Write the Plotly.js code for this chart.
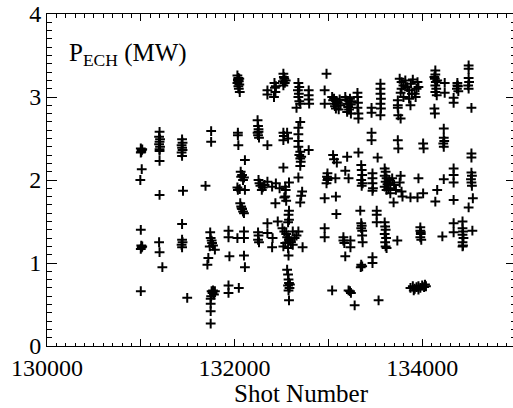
<!DOCTYPE html>
<html>
<head>
<meta charset="utf-8">
<script src="https://cdn.plot.ly/plotly-3.0.1.min.js"></script>
<style>
html,body{margin:0;padding:0;overflow:hidden;background:#fff;width:513px;height:408px;}
#chart{width:517px;height:408px;}
</style>
</head>
<body>
<div id="chart"></div>
<script>
// Shot numbers (x) and ECH power in MW (y)
const shotNumber = [
  131000,131010,131005,131015,131000,131010,130995,131000,131005,131010,131000,131015,131000,
  131200,131195,131205,131200,131195,131205,131200,131200,131200,131200,131195,131200,131230,
  131440,131445,131435,131440,131445,131435,131440,131450,131440,131440,131445,131435,131440,131495,
  131750,131750,131690,131740,131745,131755,131760,131770,131790,131735,131720,131710,131755,131765,131780,131750,131745,131745,131745,131745,131770,131790,
  131935,131935,131945,131935,131935,132045,
  132030,132040,132035,132045,132030,132050,132040,132045,132055,132035,132050,132035,132035,132040,132110,132065,132080,132100,132090,132070,132030,132035,132055,132110,132060,132070,132080,132090,132100,132075,132030,132100,132100,132100,132110,
  132245,132250,132255,132245,132250,132260,132255,132255,132265,132275,132290,132300,132320,132350,132400,132440,132480,132250,132255,132250,132260,
  132350,132350,132350,132350,132350,132425,132430,132435,132420,132440,132405,132400,132460,132435,
  132520,132525,132530,132515,132535,132520,132545,132520,132525,132520,132560,132570,132520,132540,132545,132540,132550,132530,132580,132580,132575,132580,132570,132510,132530,132550,132560,132580,132600,132620,132640,132660,132540,132520,132570,132680,132620,132725,132575,132560,132570,132575,132580,132570,132585,132575,132590,132580,
  132680,132690,132675,132685,132680,132690,132660,132700,132700,132680,132680,132680,132680,132700,132690,132700,132705,132700,132710,132790,132680,132720,132700,132710,
  132790,132790,132790,132795,
  132980,132960,132960,132990,132985,132990,132980,132995,132960,132960,132960,
  133040,133050,133060,133070,133080,133100,133120,133090,133060,133130,133110,133050,133060,133090,133075,133080,133085,133160,133160,133170,133040,
  133180,133190,133200,133210,133220,133240,133250,133230,133200,133240,133200,133180,133215,133235,133235,133180,133215,133240,133230,133280,
  133310,133310,133315,133310,133320,133320,133320,133350,133355,133360,133350,133365,133355,133340,133350,133355,133350,133360,133360,133365,133350,133360,133345,
  133460,133460,133460,133460,133470,133470,133470,133475,133470,133470,133470,
  133555,133555,133555,133560,133555,133560,133555,133525,133515,133515,133515,133535,
  133600,133610,133600,133620,133610,133630,133600,133640,133620,133650,133660,133680,133700,133760,133770,133780,133790,133660,133720,133600,133605,133610,133600,133615,133605,133610,133620,133735,133695,
  133760,133780,133800,133820,133840,133860,133880,133900,133920,133940,133950,133770,133800,133860,133930,133780,133890,133960,133740,133740,133740,133745,133770,133875,133740,133745,133960,133875,133950,134010,
  134010,134015,133980,133980,133985,133980,133990,133985,133875,133900,133920,133940,133960,133980,134000,134020,134040,133910,133960,134030,
  134140,134140,134135,134145,134140,134150,134140,134155,134130,134160,134240,134240,134130,134135,134230,134230,134235,134225,134230,134160,134140,134230,134215,
  134375,134380,134370,134385,134375,134335,134335,134335,134335,134335,134335,134335,134335,
  134495,134495,134495,134500,134490,134495,134525,134525,134525,134525,134530,134520,134525,134530,134540,134495,134430,134430,134435,134430,134440,134430,134435,134430,134535
];
const pechMW = [
  2.38,2.36,2.34,2.37,2.33,2.13,2.00,1.40,1.21,1.19,1.17,1.20,0.66,
  2.58,2.52,2.49,2.46,2.43,2.40,2.37,2.35,2.23,1.82,1.25,1.13,0.95,
  2.49,2.45,2.42,2.39,2.36,2.33,2.29,1.87,1.47,1.28,1.25,1.22,1.19,0.58,
  2.59,2.46,1.93,1.37,1.30,1.27,1.24,1.21,1.16,1.20,1.06,0.98,0.66,0.64,0.62,0.60,0.57,0.51,0.42,0.27,0.67,0.66,
  1.39,1.31,1.08,0.73,0.64,0.70,
  3.26,3.23,3.21,3.19,3.17,3.15,3.13,3.10,3.06,3.20,3.22,2.57,2.54,2.42,2.24,2.10,2.06,2.03,2.00,2.04,1.91,1.88,1.89,1.88,1.72,1.68,1.65,1.62,1.60,1.66,1.30,1.38,1.30,1.09,0.95,
  2.72,2.65,2.61,2.57,2.54,2.51,2.58,2.00,1.96,1.93,1.88,1.91,1.94,1.98,1.92,1.96,1.90,1.37,1.33,1.28,1.25,
  3.08,3.03,2.42,1.36,1.48,3.17,3.11,3.06,3.00,3.13,1.30,1.19,1.50,1.72,
  3.28,3.24,3.22,3.19,3.17,3.14,3.20,2.57,2.53,2.48,2.57,2.50,2.15,1.92,1.88,1.80,1.75,1.79,1.97,1.63,1.58,1.52,1.49,1.42,1.38,1.35,1.31,1.28,1.25,1.22,1.30,1.33,1.24,1.20,1.18,1.38,1.38,1.19,1.09,0.92,0.86,0.80,0.76,0.73,0.70,0.67,0.74,0.55,
  3.17,3.12,3.08,3.04,3.00,2.95,2.87,2.92,2.70,2.63,2.55,2.47,2.40,2.34,2.30,2.26,2.22,2.17,2.28,2.36,2.03,1.86,1.73,1.81,
  3.08,3.02,2.97,2.92,
  3.28,3.08,2.92,2.08,2.04,2.00,1.96,2.02,1.78,1.42,1.31,
  3.00,2.96,2.92,2.89,2.86,2.93,2.97,2.95,2.98,2.90,2.85,2.30,2.25,2.21,2.02,1.80,1.59,1.31,1.27,1.24,0.67,
  3.00,2.96,2.92,2.88,2.85,2.91,2.95,2.98,2.82,2.80,2.28,2.11,2.02,1.27,1.19,1.08,0.67,0.64,0.66,0.49,
  3.05,3.00,2.93,2.87,2.80,2.74,2.33,2.18,2.12,2.06,2.00,1.96,1.93,1.63,1.48,1.45,1.42,1.39,1.33,1.25,0.98,0.96,0.95,
  2.87,2.81,2.57,2.48,2.08,2.02,1.96,1.90,1.87,1.07,1.00,
  3.16,3.10,3.04,2.98,2.92,2.86,2.78,2.27,1.63,1.58,1.49,0.55,
  2.14,2.10,2.05,2.02,1.98,1.95,1.92,1.90,1.88,2.00,1.96,2.02,1.94,1.97,2.05,1.86,1.80,1.84,1.88,1.49,1.44,1.40,1.35,1.30,1.25,1.20,1.18,1.27,1.73,
  3.22,3.18,3.14,3.20,3.12,3.08,3.16,3.21,3.04,3.10,3.18,3.05,3.00,2.98,3.00,3.10,3.04,3.12,2.96,2.90,2.87,2.78,2.74,2.90,2.48,2.38,2.02,1.79,1.79,1.84,
  2.44,2.38,1.43,1.39,1.35,1.31,1.28,1.37,0.70,0.72,0.69,0.71,0.72,0.70,0.73,0.71,0.72,0.67,0.68,0.74,
  3.32,3.27,3.22,3.18,3.14,3.10,3.06,3.02,3.24,3.20,3.17,3.05,2.86,2.80,2.62,2.51,2.47,2.44,2.40,1.88,1.74,2.01,1.32,
  3.17,3.13,3.10,3.07,3.14,2.99,2.93,2.14,2.06,1.97,1.76,1.48,1.37,
  3.38,3.34,3.23,3.18,3.14,3.10,2.87,2.32,2.27,2.09,2.05,2.01,1.97,1.93,1.78,1.67,1.50,1.42,1.38,1.34,1.30,1.25,1.21,1.20,1.39
];
const xLabelVals = [130000,132000,134000];
const xLabelText = ['130000','132000','134000'];
const xUnlabeledMajor = [131000,133000,135000];
const yTickVals = [0,1,2,3,4];
const yTickText = ['0','1','2','3','4'];
const xTitle = 'Shot Number';
const panelLabel = 'P<sub>ECH</sub> (MW)';

const FONT = '"Liberation Serif","Times New Roman",serif';

const traces = [
  {
    x: shotNumber, y: pechMW, type: 'scatter', mode: 'markers',
    marker: {symbol: 'cross-thin', size: 7, color: '#000', line: {width: 2, color: '#000'}},
    hoverinfo: 'skip'
  },
  { x: [], y: [], xaxis: 'x2', yaxis: 'y', type: 'scatter', mode: 'markers', hoverinfo: 'skip', showlegend: false }
];

const xRange = [130000, 135000];

const layout = {
  width: 517, height: 408,
  margin: {l: 47, r: 1, t: 14, b: 62, pad: 0},
  paper_bgcolor: '#fff', plot_bgcolor: '#fff',
  showlegend: false,
  font: {family: FONT, color: '#000', size: 24},
  xaxis: {
    range: xRange, showgrid: false, zeroline: false,
    showline: true, linecolor: '#000', linewidth: 1, mirror: 'ticks',
    ticks: 'inside', ticklen: 7, tickwidth: 1, tickcolor: '#000',
    tickmode: 'array', tickvals: xLabelVals, ticktext: xLabelText,
    tickfont: {family: FONT, size: 24, color: '#000'},
    minor: {tickmode: 'linear', tick0: 130000, dtick: 100, ticks: 'inside', ticklen: 3.5, tickwidth: 1, tickcolor: '#000', showgrid: false}
  },
  xaxis2: {
    overlaying: 'x', anchor: 'y', side: 'bottom',
    range: xRange, showgrid: false, zeroline: false,
    showline: true, linecolor: '#000', linewidth: 1, mirror: 'ticks',
    ticks: 'inside', ticklen: 7, tickwidth: 1, tickcolor: '#000',
    tickmode: 'array', tickvals: xUnlabeledMajor, showticklabels: false
  },
  yaxis: {
    range: [0, 4], showgrid: false, zeroline: false,
    showline: true, linecolor: '#000', linewidth: 1, mirror: 'ticks',
    ticks: 'inside', ticklen: 10, tickwidth: 1, tickcolor: '#000',
    tickmode: 'array', tickvals: yTickVals, ticktext: yTickText,
    tickfont: {family: FONT, size: 24, color: '#000'},
    minor: {tickmode: 'linear', tick0: 0, dtick: 0.1, ticks: 'inside', ticklen: 5, tickwidth: 1, tickcolor: '#000', showgrid: false}
  },
  annotations: [
    {text: panelLabel, xref: 'paper', yref: 'paper', x: 0.043, y: 0.877,
     xanchor: 'left', yanchor: 'middle', showarrow: false,
     font: {family: FONT, size: 25, color: '#000'}},
    {text: xTitle, xref: 'paper', yref: 'paper', x: 0.5416, y: -0.142,
     xanchor: 'center', yanchor: 'middle', showarrow: false,
     font: {family: FONT, size: 25, color: '#000'}}
  ]
};

Plotly.newPlot('chart', traces, layout, {staticPlot: true, displayModeBar: false});
</script>
</body>
</html>
